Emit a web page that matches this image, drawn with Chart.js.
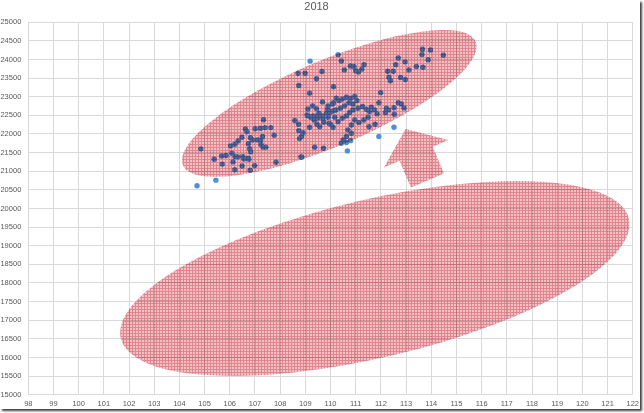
<!DOCTYPE html>
<html>
<head>
<meta charset="utf-8">
<script src="https://cdn.jsdelivr.net/npm/chart.js@4/dist/chart.umd.min.js"></script>
<style>
  html, body { margin: 0; padding: 0; background: #fff; }
  #wrap { position: relative; width: 644px; height: 413px; }
  #frame { position: absolute; left: 0; top: 0; width: 640px; height: 409px; box-shadow: 2px 2px 2px rgba(0,0,0,0.75); pointer-events: none; }
</style>
</head>
<body>
<div id="wrap">
  <canvas id="chart" width="644" height="413"></canvas>
  <div id="frame"></div>
</div>
<script>
const chartTitle = "2018";

const xValues = [
  104.85, 105.38, 104.70, 105.45, 105.68, 105.85, 105.70, 106.03, 106.20, 106.33,
  106.48, 106.62, 106.68, 107.01, 107.22, 107.34, 107.40, 107.63, 107.76, 106.82,
  106.90, 107.10, 107.23, 107.30, 106.74, 106.79, 107.24, 107.32, 107.43, 106.08,
  106.21, 106.13, 106.32, 106.52, 106.56, 106.73, 106.83, 106.49, 106.76, 106.99,
  106.81, 106.20, 107.84, 108.58, 108.73, 108.74, 108.77, 108.91, 108.82, 109.37,
  109.72, 109.10, 109.29, 109.44, 109.10, 109.31, 109.48, 109.35, 109.46, 109.70,
  109.73, 110.00, 110.10, 109.94, 109.88, 110.13, 109.19, 108.71, 108.99, 109.66,
  109.44, 110.12, 108.74, 109.17, 109.68, 110.12, 110.30, 110.43, 110.55, 110.79,
  110.93, 111.33, 111.24, 111.00, 111.11, 111.99, 112.27, 112.49, 112.32, 112.38,
  112.59, 112.69, 112.96, 113.11, 113.41, 113.67, 112.78, 112.97, 113.65, 113.63,
  113.97, 113.88, 114.48, 111.92, 112.22, 112.30, 112.18, 112.52, 112.69, 112.81,
  112.92, 112.53, 111.77, 112.52, 111.92, 110.67, 110.43, 110.63, 110.80, 108.86,
  109.90, 110.08, 110.23, 110.34, 110.47, 110.63, 110.80, 110.96, 111.05, 110.89,
  110.73, 110.56, 110.39, 110.21, 110.04, 109.84, 109.68, 109.50, 109.21, 109.07,
  109.54, 109.94, 110.30, 110.47, 110.63, 110.76, 110.89, 111.09, 111.27, 111.42,
  111.55, 111.62, 111.75, 111.85, 111.49, 111.32, 111.13, 110.96, 110.83, 110.69,
  110.83, 110.50, 110.63, 110.17, 109.90, 109.57, 109.17, 108.85, 111.53
];

const yValues = [
  21600, 21320, 20610, 20760, 21410, 21420, 21190, 21680, 21725, 21810,
  21910, 22135, 22060, 22140, 22155, 22380, 22170, 22170, 21965, 21900,
  21840, 21840, 21840, 21930, 21735, 21605, 21715, 21645, 21645, 21485,
  21390, 21250, 21385, 21390, 21330, 21350, 21520, 21140, 21320, 21150,
  21025, 21040, 21240, 22360, 22260, 22090, 21875, 22035, 21385, 21645,
  21615, 22670, 22755, 22680, 22490, 22485, 22485, 22375, 22260, 22405,
  22315, 22260, 22180, 22555, 22665, 22625, 23955, 23630, 23630, 23675,
  23480, 23270, 23300, 23095, 22860, 22840, 24130, 23960, 23720, 23825,
  23810, 23860, 23740, 23700, 23660, 23110, 23685, 23685, 23525, 23430,
  23860, 24040, 23935, 23720, 23810, 23790, 23515, 23460, 24275, 24130,
  24255, 23990, 24115, 22840, 22690, 22645, 22575, 22705, 22840, 22805,
  22700, 22530, 22260, 22180, 21930, 21545, 21750, 21770, 21820, 21375,
  22755, 22805, 22960, 22895, 22935, 22985, 22960, 23005, 22895, 22805,
  22840, 22755, 22690, 22645, 22600, 22555, 22485, 22425, 22450, 22510,
  22555, 22285, 22330, 22425, 22485, 22575, 22645, 22690, 22735, 22665,
  22600, 22720, 22645, 22540, 22450, 22375, 22305, 22375, 22240, 22110,
  22020, 21840, 21930, 22450, 22450, 22195, 22180, 21930, 22195
];

const xTicks = { min: 98, max: 122, step: 1 };
const yTicks = { min: 15000, max: 25000, step: 500 };

// hand-drawn callouts: centre in data units, size in pixels, angle in degrees
const ellipses = [
  { x: 109.95, y: 22820, rx: 159, ry: 43, angle: -22.9 },
  { x: 111.76, y: 18121, rx: 261, ry: 79, angle: -13.25 }
];
const arrow = { x: 112.98, y: 22135, angle: -23, headLen: 27, headHalf: 35, shaftHalf: 18, length: 56 };

const points = xValues.map((x, i) => ({ x: x, y: yValues[i] }));

function makeHatch(ctx) {
  const tile = document.createElement("canvas");
  tile.width = 3;
  tile.height = 3;
  const t = tile.getContext("2d");
  t.fillStyle = "#f3bfc3";
  t.fillRect(0, 0, 3, 3);
  t.fillStyle = "#df8790";
  t.fillRect(0, 0, 3, 1);
  t.fillRect(0, 0, 1, 3);
  return ctx.createPattern(tile, "repeat");
}

const callouts = {
  id: "callouts",
  afterDatasetsDraw(chart) {
    const { ctx, scales: { x, y } } = chart;
    ctx.save();
    ctx.globalCompositeOperation = "multiply";
    ctx.fillStyle = makeHatch(ctx);

    ellipses.forEach((e) => {
      ctx.beginPath();
      ctx.ellipse(x.getPixelForValue(e.x), y.getPixelForValue(e.y), e.rx, e.ry, e.angle * Math.PI / 180, 0, Math.PI * 2);
      ctx.fill();
    });

    const a = arrow;
    const tx = x.getPixelForValue(a.x);
    const ty = y.getPixelForValue(a.y);
    const rad = a.angle * Math.PI / 180;
    const shape = [
      [0, 0], [a.headHalf, a.headLen], [a.shaftHalf, a.headLen], [a.shaftHalf, a.length],
      [-a.shaftHalf, a.length], [-a.shaftHalf, a.headLen], [-a.headHalf, a.headLen]
    ];
    ctx.beginPath();
    shape.forEach(([px, py], i) => {
      const rx = tx + px * Math.cos(rad) - py * Math.sin(rad);
      const ry = ty + px * Math.sin(rad) + py * Math.cos(rad);
      if (i === 0) ctx.moveTo(rx, ry); else ctx.lineTo(rx, ry);
    });
    ctx.closePath();
    ctx.fill();
    ctx.restore();
  }
};

const tickFont = { family: "Liberation Sans", size: 7.5 };
const gridColor = "#d9d9d9";

new Chart(document.getElementById("chart"), {
  type: "scatter",
  data: {
    datasets: [{
      data: points,
      backgroundColor: "#4f8fd6",
      borderWidth: 0,
      pointRadius: 2.7,
      pointHoverRadius: 2.7
    }]
  },
  options: {
    responsive: false,
    animation: false,
    devicePixelRatio: 1,
    layout: { padding: { left: 0, right: 11, top: 0, bottom: 0 } },
    plugins: {
      legend: { display: false },
      tooltip: { enabled: false },
      title: {
        display: true,
        text: chartTitle,
        color: "#595959",
        font: { family: "Liberation Sans", size: 11, weight: "normal" },
        padding: { top: 0, bottom: 9 }
      }
    },
    scales: {
      x: {
        type: "linear",
        min: xTicks.min,
        max: xTicks.max,
        ticks: { stepSize: xTicks.step, color: "#595959", font: tickFont, padding: 5, maxRotation: 0, callback: (v) => String(v) },
        grid: { color: gridColor, drawTicks: false },
        border: { color: gridColor },
        afterFit: (scale) => { scale.height = 18.3; }
      },
      y: {
        type: "linear",
        min: yTicks.min,
        max: yTicks.max,
        ticks: { stepSize: yTicks.step, color: "#595959", font: tickFont, padding: 7, callback: (v) => String(v) },
        grid: { color: gridColor, drawTicks: false },
        border: { color: gridColor },
        afterFit: (scale) => { scale.width = 28.3; }
      }
    }
  },
  plugins: [callouts]
});
</script>
</body>
</html>
